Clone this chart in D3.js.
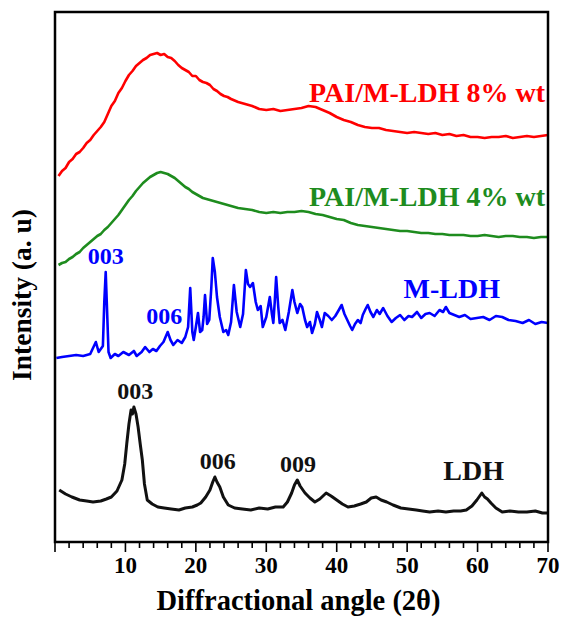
<!DOCTYPE html>
<html>
<head>
<meta charset="utf-8">
<script src="https://cdn.jsdelivr.net/npm/d3@7"></script>
<style>
  body { margin: 0; background: #fff; }
  text { font-family: "Liberation Serif", "Times New Roman", serif; font-weight: bold; }
</style>
</head>
<body>
<script>
// diffraction angle (2θ) and intensity (a.u.)
var pai8 = [[0.5,366],[1,371],[1.5,374],[2,380],[2.5,383],[3,388],[3.5,390],[4,394],[4.5,399],[5,402],[5.5,407],[6,411],[6.5,415],[7,420],[7.5,428],[8,436],[8.5,441],[9,449],[9.5,454],[10,461],[10.5,467],[11,471],[11.5,476],[12,479],[12.5,482],[13,484],[13.5,487],[14,488],[14.5,489],[15,487],[15.5,488],[16,485],[16.5,484],[17,481],[17.5,477],[18,474],[18.5,472],[19,470],[19.5,466],[20,466],[20.5,462],[21,460],[21.5,459],[22,457],[22.5,453],[23,451],[23.5,448],[24,446],[24.5,445],[25,443],[26,440],[27,438],[28,436],[29,433],[30,432],[31,433],[32,431],[33,432],[34,433],[35,434],[36,436],[37,435],[38,432],[39,429],[40,425],[41,422],[42,420],[43,417],[44,415],[45,414],[46,414],[47,412],[48,411],[49,410],[50,409],[51,410],[52,409],[53,408],[54,409],[55,407],[56,408],[57,406],[58,407],[59,405],[60,405],[61,404],[62,405],[63,405],[64,406],[65,404],[66,405],[67,406],[68,405],[69,406],[70,407]];

var pai4 = [[0.5,277],[1,279],[1.5,280],[2,283],[2.5,285],[3,288],[3.5,290],[4,294],[4.5,297],[5,300],[5.5,303],[6,306],[6.5,308],[7,312],[7.5,315],[8,319],[8.5,323],[9,327],[9.5,332],[10,337],[10.5,342],[11,346],[11.5,351],[12,355],[12.5,359],[13,362],[13.5,365],[14,367],[14.5,369],[15,370],[15.5,369],[16,368],[16.5,366],[17,364],[17.5,361],[18,358],[18.5,355],[19,353],[19.5,350],[20,348],[21,344],[22,342],[23,340],[24,338],[25,336],[26,334],[27,333],[28,332],[29,330],[30,329],[31,330],[32,329],[33,330],[34,330],[35,331],[36,330],[37,328],[38,327],[39,325],[40,323],[41,322],[42,319],[43,317],[44,316],[45,315],[46,314],[47,313],[48,312],[49,311],[50,311],[51,310],[52,309],[53,309],[54,308],[55,308],[56,307],[57,307],[58,307],[59,306],[60,306],[61,307],[62,306],[63,305],[64,306],[65,306],[66,305],[67,305],[68,304],[69,305],[70,305]];

var mldh = [[0.2,184],[1,185],[2,186],[3,187],[4,186],[5,188],[5.8,200],[6.2,190],[6.8,196],[7.0,240],[7.2,270],[7.4,230],[7.6,190],[7.9,184],[8.5,188],[9,186],[9.7,190],[10.5,187],[11.2,191],[11.6,186],[12.3,190],[12.8,195],[13.4,190],[13.9,193],[14.4,191],[14.9,196],[15.4,200],[16.0,210],[16.4,202],[16.8,197],[17.4,202],[18.0,199],[18.5,205],[18.9,215],[19.2,254],[19.5,210],[19.7,202],[20.0,215],[20.3,229],[20.6,210],[20.9,212],[21.1,225],[21.3,247],[21.6,218],[21.9,222],[22.2,255],[22.4,284],[22.7,270],[23.0,245],[23.4,225],[23.9,210],[24.3,212],[24.6,207],[25.0,220],[25.4,257],[25.8,230],[26.3,215],[26.7,228],[27.1,272],[27.4,258],[27.7,255],[28.1,259],[28.5,240],[28.8,232],[29.2,236],[29.5,215],[30.0,225],[30.5,245],[30.8,228],[31.0,219],[31.2,240],[31.4,265],[31.7,235],[31.9,219],[32.3,222],[32.7,212],[33.2,230],[33.7,252],[34.0,240],[34.4,229],[34.8,238],[35.1,235],[35.5,222],[35.8,215],[36.2,220],[36.5,209],[36.9,218],[37.2,230],[37.6,222],[37.9,215],[38.3,229],[38.8,226],[39.3,222],[39.8,226],[40.3,232],[40.7,237],[41.1,228],[41.5,222],[41.9,216],[42.2,212],[42.6,218],[43.0,222],[43.4,219],[43.7,227],[44.1,233],[44.4,237],[44.8,230],[45.2,225],[45.7,232],[46.1,228],[46.6,234],[47.2,226],[47.8,220],[48.4,224],[49.0,227],[49.6,222],[50.2,226],[50.7,225],[51.4,230],[52.0,224],[52.6,228],[53.2,229],[53.9,226],[54.6,232],[55.1,230],[55.5,235],[56.0,229],[56.7,227],[57.4,225],[58.2,227],[59.0,223],[59.9,224],[60.8,225],[61.7,222],[62.6,226],[63.5,225],[64.4,222],[65.4,221],[66.4,219],[67.3,222],[68.2,218],[69.1,220],[70,219]];

var ldh = [[0.6,52],[1.5,48],[2.4,45],[3.5,42],[4.5,41],[5.4,40],[6.5,41],[7.3,43],[8.0,45],[8.8,51],[9.5,62],[9.9,78],[10.2,99],[10.5,118],[10.8,132],[11.0,128],[11.2,135],[11.5,128],[11.8,115],[12.1,98],[12.4,82],[12.7,58],[13.1,42],[13.8,38],[14.6,35],[15.5,34],[16.5,33],[17.6,32],[18.5,34],[19.5,35],[20.2,37],[20.7,39],[21.4,45],[22.0,52],[22.4,60],[22.7,65],[23.0,60],[23.4,55],[23.9,45],[24.6,37],[25.5,34],[26.6,33],[27.8,32],[29.0,34],[30.2,33],[31.3,35],[32.4,35],[33.0,40],[33.6,49],[34.0,57],[34.4,62],[34.8,56],[35.5,49],[36.2,44],[36.9,40],[37.6,43],[38.5,49],[39.2,46],[40.0,42],[40.8,38],[41.6,35],[42.5,36],[43.4,38],[44.2,40],[44.9,44],[45.6,45],[46.3,42],[47.1,40],[48.0,37],[49.1,34],[50.2,33],[51.3,32],[52.2,31],[53.2,30],[54.4,31],[55.5,30],[56.6,31],[57.6,31],[58.4,32],[59.2,36],[59.9,42],[60.3,46],[60.6,49],[61.0,45],[61.4,43],[61.9,39],[62.6,34],[63.5,30],[64.6,31],[65.8,30],[67.0,30],[68.2,31],[69.2,29],[70,29]];

var seriesNames = ["PAI/M-LDH 8% wt", "PAI/M-LDH 4% wt", "M-LDH", "LDH"];
var seriesData = [pai8, pai4, mldh, ldh];
var seriesColors = ["#ff0000", "#1e8c1e", "#0000ff", "#111111"];

// (hkl) reflections: series index, angle, peak intensity
var peakLabels = ["003", "006", "003", "006", "009"];
var peakSeries = [2, 2, 3, 3, 3];
var peakAngles = [7.2, 15.5, 11.4, 23.1, 34.5];
var peakTops = [270, 210, 135, 65, 62];

var angleTicks = d3.range(0, 71, 2);
var angleLabels = [10, 20, 30, 40, 50, 60, 70];

var width = 562, height = 618;
var margin = {top: 12, right: 14, bottom: 76, left: 55};

var svg = d3.select("body").append("svg")
    .attr("width", width)
    .attr("height", height);

var x = d3.scaleLinear().domain([0, 70]).range([margin.left, width - margin.right]);
var y = d3.scaleLinear().domain([0, 530]).range([height - margin.bottom, margin.top]);

var line = d3.line()
    .x(function(d){ return x(d[0]); })
    .y(function(d){ return y(d[1]); });

// curves
seriesData.forEach(function(s, i){
  svg.append("path")
    .attr("fill", "none")
    .attr("stroke", seriesColors[i])
    .attr("stroke-width", i == 3 ? 3 : 2.6)
    .attr("stroke-linejoin", "round")
    .attr("d", line(s));
});

// frame
svg.append("rect")
  .attr("x", x(0)).attr("y", y(530))
  .attr("width", x(70) - x(0)).attr("height", y(0) - y(530))
  .attr("fill", "none").attr("stroke", "#000").attr("stroke-width", 2.5);

// ticks below the axis
svg.selectAll("line.tick")
  .data(angleTicks)
  .enter().append("line")
    .attr("class", "tick")
    .attr("x1", function(d){ return x(d); })
    .attr("x2", function(d){ return x(d); })
    .attr("y1", y(0))
    .attr("y2", function(d){ return y(0) + (d % 10 === 0 ? 10 : 6); })
    .attr("stroke", "#000").attr("stroke-width", 1.6);

svg.selectAll("text.ticklab")
  .data(angleLabels)
  .enter().append("text")
    .attr("class", "ticklab")
    .attr("x", function(d){ return x(d); })
    .attr("y", y(0) + 31)
    .attr("text-anchor", "middle")
    .style("font-size", "23px")
    .text(function(d){ return d; });

svg.append("text")
  .attr("x", (x(0) + x(70)) / 2 - 3)
  .attr("y", 610)
  .attr("text-anchor", "middle")
  .style("font-size", "28.5px")
  .text("Diffractional angle (2θ)");

svg.append("text")
  .attr("transform", "translate(31,295) rotate(-90)")
  .attr("text-anchor", "middle")
  .style("font-size", "27.5px")
  .text("Intensity (a. u)");

// series names
var nameX = [545, 545, 500, 504];
var nameY = [102, 206, 298, 480];
seriesNames.forEach(function(n, i){
  svg.append("text")
    .attr("x", nameX[i]).attr("y", nameY[i])
    .attr("text-anchor", "end")
    .attr("fill", seriesColors[i])
    .style("font-size", "28px")
    .text(n);
});

// reflection labels
peakLabels.forEach(function(p, i){
  svg.append("text")
    .attr("x", x(peakAngles[i]))
    .attr("y", y(peakTops[i]) - 8)
    .attr("text-anchor", "middle")
    .attr("fill", seriesColors[peakSeries[i]])
    .style("font-size", "24px")
    .text(p);
});
</script>
</body>
</html>
